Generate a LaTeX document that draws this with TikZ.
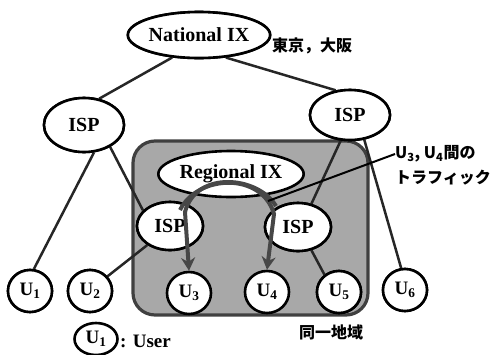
\documentclass[tikz,border=0pt]{standalone}
\usepackage{fontspec}
\setmainfont{Liberation Serif}
\newfontfamily\jpfont{Noto Sans CJK JP}
\usetikzlibrary{shapes.geometric,arrows.meta}
\begin{document}
\begin{tikzpicture}[x=1pt,y=-1pt,
  ell/.style={ellipse,draw=black,line width=2.6pt,fill=white,inner sep=0pt,font=\bfseries\fontsize{20}{22}\selectfont},
  usr/.style={ell,minimum width=44pt,minimum height=42pt,font=\bfseries\fontsize{19}{20}\selectfont},
  link/.style={line width=2.5pt,draw=black!85},
  traffic/.style={line width=4pt,draw=black!72,-{Stealth[length=13pt,width=14pt]}},
  jp/.style={font=\jpfont\bfseries\fontsize{16}{18}\selectfont,inner sep=0pt}
]
\useasboundingbox (0,0) rectangle (495,354);
% region
\node[draw=black!75,line width=3.2pt,fill=black!34,rounded corners=22pt,minimum width=235pt,minimum height=174pt,inner sep=0pt] (reg) at (250.5,228) {};
% nodes
\node[ell,minimum width=138pt,minimum height=46pt] (nix) at (199,35) {National IX};
\node[ell,minimum width=80pt,minimum height=54pt] (ispl) at (84,125) {ISP};
\node[ell,minimum width=80pt,minimum height=50pt] (ispr) at (350,115) {ISP};
\node[ell,minimum width=128pt,minimum height=46pt] (rix) at (231,174) {Regional IX};
\node[ell,minimum width=66pt,minimum height=48pt] (ispa) at (170,226) {ISP};
\node[ell,minimum width=66pt,minimum height=48pt] (ispb) at (298,227) {ISP};
\node[usr] (u1) at (30,291) {U\textsubscript{1}};
\node[usr] (u2) at (90,291) {U\textsubscript{2}};
\node[usr] (u3) at (189,293) {U\textsubscript{3}};
\node[usr] (u4) at (267,292) {U\textsubscript{4}};
\node[usr] (u5) at (339,292) {U\textsubscript{5}};
\node[usr] (u6) at (405,290) {U\textsubscript{6}};
\node[usr,minimum width=43pt,minimum height=32pt] (leg) at (96,339) {U\textsubscript{1}};
% links
\draw[link] (nix.220) -- (ispl.60);
\draw[link] (nix.320) -- (ispr.120);
\draw[link] (ispl.290) -- (u1.80);
\draw[link] (ispl.320) -- (ispa.150);
\draw[link] (ispa.220) -- (u2.40);
\draw[link] (ispr.250) -- (ispb.60);
\draw[link] (ispr.300) -- (u6.100);
\draw[link] (ispb.300) -- (u5.130);
% redraw nodes on top of links
\node[ell,minimum width=138pt,minimum height=46pt] at (nix) {National IX};
\node[ell,minimum width=80pt,minimum height=54pt] at (ispl) {ISP};
\node[ell,minimum width=80pt,minimum height=50pt] at (ispr) {ISP};
\node[ell,minimum width=66pt,minimum height=48pt] at (ispa) {ISP};
\node[ell,minimum width=66pt,minimum height=48pt] at (ispb) {ISP};
\node[usr] at (u1) {U\textsubscript{1}};
\node[usr] at (u2) {U\textsubscript{2}};
\node[usr] at (u5) {U\textsubscript{5}};
\node[usr] at (u6) {U\textsubscript{6}};
% traffic arcs
\coordinate (ta) at (180,210);
\coordinate (tb) at (276,206);
\draw[traffic] (tb) .. controls (258,176) and (196,170) .. (185,212) -- (u3.north);
\draw[traffic] (ta) .. controls (198,174) and (262,172) .. (274,214) -- (u4.north);
% labels
\node[jp,anchor=west] (tokyo) at (272,46) {東京，大阪};
\node[jp,anchor=west] (lab1) at (395,154) {U\textsubscript{3}, U\textsubscript{4}間の};
\node[jp,anchor=west] (lab2) at (395,178) {トラフィック};
\coordinate (lt) at (268,201);
\draw[line width=2pt] (lab1.west) -- (lt);
\node[jp] (area) at (331,332) {同一地域};
\node[font=\bfseries\fontsize{19}{20}\selectfont,anchor=west,inner sep=0pt] (user) at (120,341) {: User};
\end{tikzpicture}
\end{document}
